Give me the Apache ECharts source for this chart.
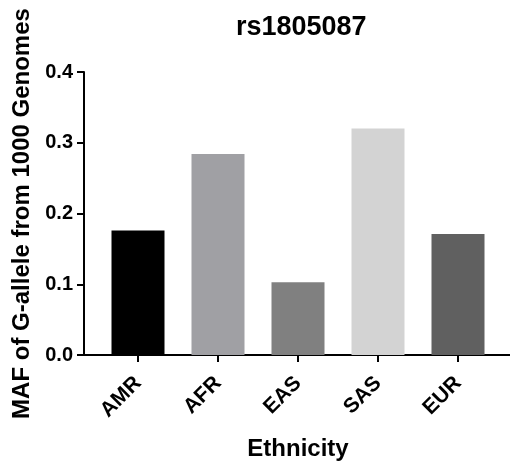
<!DOCTYPE html>
<html>
<head>
<meta charset="utf-8">
<script src="https://cdn.jsdelivr.net/npm/echarts@6/dist/echarts.min.js"></script>
<style>html,body{margin:0;padding:0;background:#fff}#c{width:510px;height:462px}</style>
</head>
<body>
<div id="c"></div>
<script>
var categories = ['AMR', 'AFR', 'EAS', 'SAS', 'EUR'];
var mafValues = [0.176, 0.284, 0.103, 0.320, 0.171];
var barColors = ['#000000', '#a0a0a4', '#808080', '#d3d3d3', '#606060'];
var yTicks = [0.0, 0.1, 0.2, 0.3, 0.4];

var FONT = 'Liberation Sans, Arial, sans-serif';
var chart = echarts.init(document.getElementById('c'), null, {renderer: 'canvas'});
var axisLine = {show: true, lineStyle: {color: '#000', width: 2}};
chart.setOption({
  animation: false,
  backgroundColor: '#fff',
  title: {
    text: 'rs1805087',
    left: 231, top: 9,
    textStyle: {fontFamily: FONT, fontWeight: 'bold', fontSize: 27, color: '#000'}
  },
  grid: [
    {left: 98, width: 400, top: 72, bottom: 107, containLabel: false, outerBoundsMode: 'none'},
    {left: 84, right: 0, top: 72, bottom: 107, containLabel: false, outerBoundsMode: 'none'}
  ],
  xAxis: [
    {
      type: 'category', gridIndex: 0, data: categories,
      name: 'Ethnicity', nameLocation: 'middle', nameGap: 82,
      nameTextStyle: {fontFamily: FONT, fontWeight: 'bold', fontSize: 24, color: '#000'},
      axisLine: {show: false},
      axisTick: {show: true, alignWithLabel: true, length: 7, lineStyle: {color: '#000', width: 2}},
      axisLabel: {rotate: 45, margin: 25, fontFamily: FONT, fontWeight: 'bold', fontSize: 21, color: '#000'}
    },
    {
      type: 'value', gridIndex: 1, min: 0, max: 1,
      axisLine: axisLine, axisTick: {show: false}, axisLabel: {show: false}, splitLine: {show: false}
    }
  ],
  yAxis: [
    {
      type: 'value', gridIndex: 0, min: 0, max: 0.4, interval: 0.1, offset: 14,
      name: 'MAF of G-allele from 1000 Genomes', nameLocation: 'middle', nameGap: 50,
      nameTextStyle: {fontFamily: FONT, fontWeight: 'bold', fontSize: 24, color: '#000'},
      axisLine: axisLine,
      axisTick: {show: true, length: 7, lineStyle: {color: '#000', width: 2}},
      axisLabel: {margin: 11, fontFamily: FONT, fontWeight: 'bold', fontSize: 20, color: '#000',
        formatter: function (v) { return v.toFixed(1); }},
      splitLine: {show: false}
    },
    {type: 'value', gridIndex: 1, show: false, min: 0, max: 1}
  ],
  series: [{
    type: 'bar', xAxisIndex: 0, yAxisIndex: 0, barWidth: 53,
    data: mafValues.map(function (v, i) { return {value: v, itemStyle: {color: barColors[i]}}; })
  }]
});
</script>
</body>
</html>
